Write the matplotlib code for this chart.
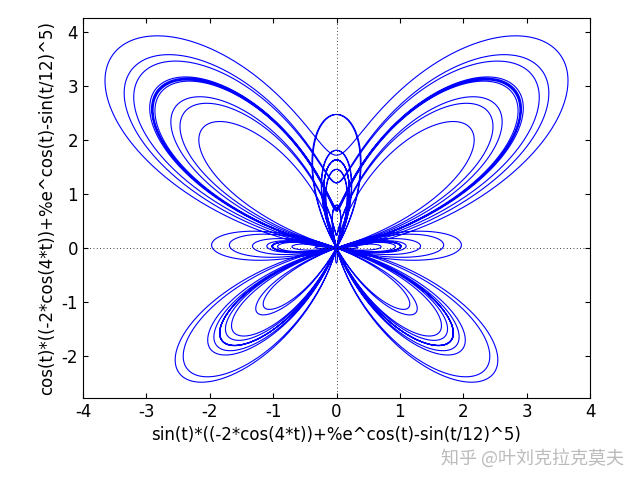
import numpy as np
import matplotlib
matplotlib.use("Agg")
import matplotlib.pyplot as plt

plt.rcParams['font.family'] = ['DejaVu Sans', 'Noto Sans CJK SC']
plt.rcParams['axes.unicode_minus'] = False

# parametric butterfly curve, as named in the axis labels
T_MIN, T_MAX, N_SAMPLES = 0.0, 24 * np.pi, 20000
t = np.linspace(T_MIN, T_MAX, N_SAMPLES)
r = -2 * np.cos(4 * t) + np.exp(np.cos(t)) - np.sin(t / 12) ** 5
x = np.sin(t) * r
y = np.cos(t) * r

xticks = [-4, -3, -2, -1, 0, 1, 2, 3, 4]
yticks = [-2, -1, 0, 1, 2, 3, 4]

fig = plt.figure(figsize=(6.4, 4.8), dpi=100)
ax = fig.add_axes([83 / 640, 1 - 398 / 480, (590 - 83) / 640, (398 - 18) / 480])
ax.plot(x, y, color="#0000ff", lw=0.8)
ax.axhline(0, color="black", ls=(0, (1, 3)), lw=0.6)
ax.axvline(0, color="black", ls=(0, (1, 3)), lw=0.6)
ax.set_xlim(-4, 4)
ax.set_ylim(-2.78, 4.26)
ax.set_xticks(xticks)
ax.set_yticks(yticks)
ax.tick_params(direction="in", top=True, right=True, labelsize=12)
ax.set_xlabel("sin(t)*((-2*cos(4*t))+%e^cos(t)-sin(t/12)^5)", fontsize=12)
ax.set_ylabel("cos(t)*((-2*cos(4*t))+%e^cos(t)-sin(t/12)^5)", fontsize=12)
fig.text(0.975, 0.045, "知乎 @叶刘克拉克莫夫", ha="right", va="center",
         fontsize=13, color="#bbbbbb", family=['Noto Sans CJK SC', 'DejaVu Sans'])
fig.savefig("out.png")
